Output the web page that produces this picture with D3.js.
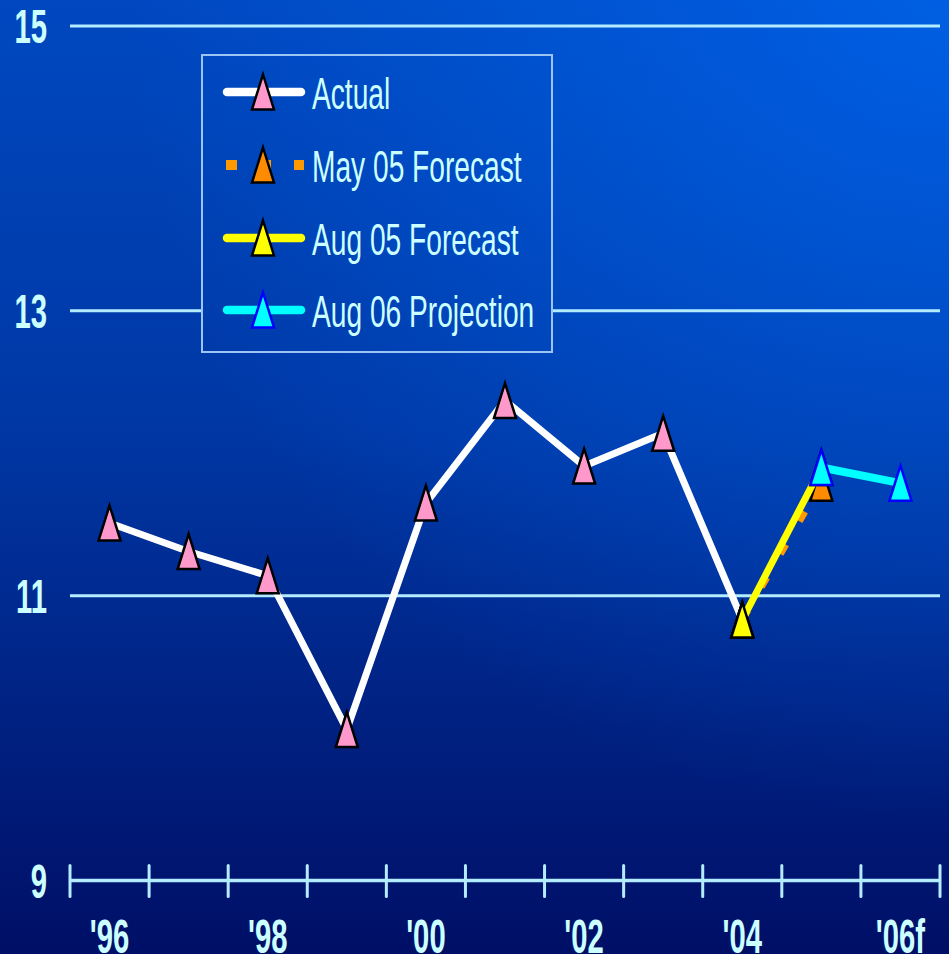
<!DOCTYPE html>
<html>
<head>
<meta charset="utf-8">
<script src="https://cdn.jsdelivr.net/npm/d3@7"></script>
<style>
  html, body { margin: 0; padding: 0; background: #00106a; }
  svg { display: block; }
</style>
</head>
<body>
<script>
// ---- data ----
const years = ["'96", "'97", "'98", "'99", "'00", "'01", "'02", "'03", "'04", "'05", "'06f"];
const xTickLabels = ["'96", "'98", "'00", "'02", "'04", "'06f"];
const yTicks = [9, 11, 13, 15];
const gridValues = [11, 13, 15];

const actualYears = ["'96", "'97", "'98", "'99", "'00", "'01", "'02", "'03", "'04"];
const actualValues = [11.51, 11.31, 11.14, 10.06, 11.65, 12.37, 11.91, 12.14, 10.83];

const may05Years = ["'04", "'05"];
const may05Values = [10.83, 11.79];

const aug05Years = ["'04", "'05"];
const aug05Values = [10.83, 11.90];

const aug06Years = ["'05", "'06f"];
const aug06Values = [11.90, 11.79];

const seriesNames = ["Actual", "May 05 Forecast", "Aug 05 Forecast", "Aug 06 Projection"];

// ---- layout ----
const W = 949, H = 954;
const plot = { left: 70, right: 940, top: 26, bottom: 880.5 };
const textColor = "#ccffff";
const gridColor = "#b4ecff";
const SX = 0.61; // condensed lettering

const svg = d3.select("body").append("svg")
  .attr("width", W).attr("height", H);

const defs = svg.append("defs");
const bg = defs.append("linearGradient").attr("id", "bg")
  .attr("gradientUnits", "userSpaceOnUse")
  .attr("x1", 0).attr("y1", 0).attr("x2", 0).attr("y2", H);
bg.append("stop").attr("offset", 0).attr("stop-color", "#0048c0");
bg.append("stop").attr("offset", 0.45).attr("stop-color", "#0037a4");
bg.append("stop").attr("offset", 1).attr("stop-color", "#000f66");
const glow = defs.append("radialGradient").attr("id", "glow")
  .attr("gradientUnits", "userSpaceOnUse")
  .attr("cx", W).attr("cy", 0).attr("r", 820);
glow.append("stop").attr("offset", 0).attr("stop-color", "#0066ee").attr("stop-opacity", 0.75);
glow.append("stop").attr("offset", 1).attr("stop-color", "#0066ee").attr("stop-opacity", 0);

function paintBackground(sel, x, y, w, h) {
  sel.append("rect").attr("x", x).attr("y", y).attr("width", w).attr("height", h).attr("fill", "url(#bg)");
  sel.append("rect").attr("x", x).attr("y", y).attr("width", w).attr("height", h).attr("fill", "url(#glow)");
}
paintBackground(svg, 0, 0, W, H);

// ---- scales ----
const x = d3.scaleBand().domain(years).range([plot.left, plot.right]).padding(0);
const xc = d => x(d) + x.bandwidth() / 2;
const y = d3.scaleLinear().domain([9, 15]).range([plot.bottom, plot.top]);
const edge = d3.scaleLinear().domain([0, years.length]).range([plot.left, plot.right]);

// condensed text helper
function label(sel, txt, px, py, opts) {
  return sel.append("text")
    .attr("transform", `translate(${px},${py}) scale(${opts.sx || SX},1)`)
    .attr("text-anchor", opts.anchor || "start")
    .attr("font-family", "'Liberation Sans', Arial, sans-serif")
    .attr("font-weight", opts.weight || "normal")
    .attr("font-size", opts.size)
    .attr("fill", opts.fill || textColor)
    .text(txt);
}

// ---- gridlines ----
svg.append("g").selectAll("line").data(gridValues).join("line")
  .attr("x1", plot.left).attr("x2", plot.right)
  .attr("y1", d => y(d)).attr("y2", d => y(d))
  .attr("stroke", gridColor).attr("stroke-width", 3);

// ---- y labels ----
const yLab = svg.append("g");
yTicks.forEach(v => label(yLab, String(v), 47, y(v) + 17, { anchor: "end", weight: "bold", size: 48 }));

// ---- x axis ----
const xAxis = svg.append("g");
xAxis.append("line")
  .attr("x1", plot.left).attr("x2", plot.right)
  .attr("y1", plot.bottom).attr("y2", plot.bottom)
  .attr("stroke", gridColor).attr("stroke-width", 3.5);
xAxis.selectAll("line.tick").data(d3.range(years.length + 1)).join("line")
  .attr("class", "tick")
  .attr("x1", d => edge(d)).attr("x2", d => edge(d))
  .attr("y1", plot.bottom - 15).attr("y2", plot.bottom + 16)
  .attr("stroke", gridColor).attr("stroke-width", 3).attr("stroke-linecap", "round");
xTickLabels.forEach(t => label(xAxis, t, xc(t), 953, { anchor: "middle", weight: "bold", size: 48 }));

// ---- series ----
const triangle = "M0,-17.5L11,17.5L-11,17.5Z";
const lineGen = d3.line().x(d => xc(d[0])).y(d => y(d[1]));

const series = [
  { name: seriesNames[0], xs: actualYears, vs: actualValues, color: "#ffffff", width: 7, dash: null, fill: "#ff99cc", edge: "#000000" },
  { name: seriesNames[1], xs: may05Years, vs: may05Values, color: "#ff9900", width: 7, dash: "11,27", fill: "#ff8c00", edge: "#000000" },
  { name: seriesNames[2], xs: aug05Years, vs: aug05Values, color: "#ffff00", width: 7, dash: null, fill: "#ffff00", edge: "#000000" },
  { name: seriesNames[3], xs: aug06Years, vs: aug06Values, color: "#00ffff", width: 8, dash: null, fill: "#00ffff", edge: "#0000ff" }
];

const marks = svg.append("g");
series.forEach(s => {
  const pts = s.xs.map((k, i) => [k, s.vs[i]]);
  marks.append("path")
    .attr("d", lineGen(pts))
    .attr("fill", "none")
    .attr("stroke", s.color)
    .attr("stroke-width", s.width)
    .attr("stroke-linejoin", "round")
    .attr("stroke-dasharray", s.dash);
  marks.append("g").selectAll("path").data(pts).join("path")
    .attr("transform", d => `translate(${xc(d[0])},${y(d[1])})`)
    .attr("d", triangle)
    .attr("fill", s.fill)
    .attr("stroke", s.edge)
    .attr("stroke-width", 2.5)
    .attr("stroke-linejoin", "miter");
});

// ---- legend ----
const lg = svg.append("g");
const box = { x: 202, y: 55, w: 350, h: 297 };
const lgClip = defs.append("clipPath").attr("id", "lgclip");
lgClip.append("rect").attr("x", box.x).attr("y", box.y).attr("width", box.w).attr("height", box.h);
const lgBg = lg.append("g").attr("clip-path", "url(#lgclip)");
paintBackground(lgBg, 0, 0, W, H);
lg.append("rect")
  .attr("x", box.x).attr("y", box.y).attr("width", box.w).attr("height", box.h)
  .attr("fill", "none").attr("stroke", "#9cc4f4").attr("stroke-width", 2);

const rowY = [92, 165, 238, 310];
series.forEach((s, i) => {
  const ry = rowY[i];
  const row = lg.append("g");
  if (s.dash) {
    row.append("line")
      .attr("x1", 226).attr("x2", 304).attr("y1", ry).attr("y2", ry)
      .attr("stroke", s.color).attr("stroke-width", 10)
      .attr("stroke-dasharray", "11,23");
  } else {
    row.append("line")
      .attr("x1", 227).attr("x2", 301).attr("y1", ry).attr("y2", ry)
      .attr("stroke", s.color).attr("stroke-width", 8.5)
      .attr("stroke-linecap", "round");
  }
  row.append("path")
    .attr("transform", `translate(263,${ry})`)
    .attr("d", triangle)
    .attr("fill", s.fill)
    .attr("stroke", s.edge)
    .attr("stroke-width", 2.5);
  label(row, s.name, 312, ry + 17, { size: 44, sx: 0.64 });
});
</script>
</body>
</html>
